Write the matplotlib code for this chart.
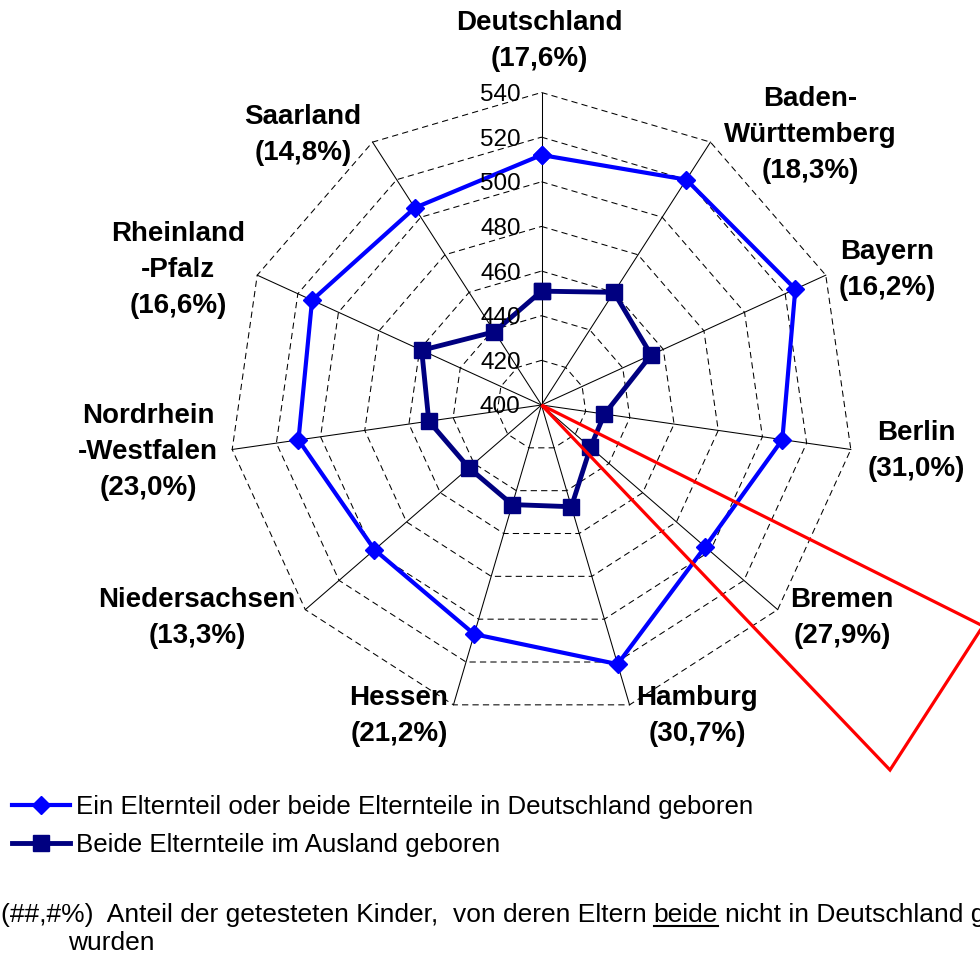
import numpy as np
import matplotlib
matplotlib.use("Agg")
import matplotlib.pyplot as plt
from matplotlib.patches import Polygon
from matplotlib.lines import Line2D

plt.rcParams['font.family'] = ['Liberation Sans', 'DejaVu Sans']

# Daten
laender = ['Deutschland', 'Baden-\nWürttemberg', 'Bayern', 'Berlin', 'Bremen', 'Hamburg',
           'Hessen', 'Niedersachsen', 'Nordrhein\n-Westfalen', 'Rheinland\n-Pfalz', 'Saarland']
anteil = ['17,6', '18,3', '16,2', '31,0', '27,9', '30,7', '21,2', '13,3', '23,0', '16,6', '14,8']
deutsch = [512, 520, 525, 509, 497, 521, 507, 499, 510, 513, 505]
ausland = [451, 460, 454, 428.5, 429, 447.5, 446.5, 443, 451, 459, 439]
stufen = [400, 420, 440, 460, 480, 500, 520, 540]
serien_namen = ['Ein Elternteil oder beide Elternteile in Deutschland geboren',
                'Beide Elternteile im Ausland geboren']

# Layout (Pixel, y von oben)
W, H = 980, 955
cx, cy, R = 541.5, 405, 312.5
label_pos = [(539, 41), (810, 135), (887, 270), (916, 451), (842, 618), (697, 716),
             (399, 716), (197, 618), (148, 452), (178, 270), (303, 135)]

fig = plt.figure(figsize=(W / 100, H / 100), dpi=100)
ax = fig.add_axes([(cx - R) / W, (H - cy - R) / H, 2 * R / W, 2 * R / H], projection='polar')
ax.set_theta_zero_location('N')
ax.set_theta_direction(-1)
ax.set_ylim(stufen[0], stufen[-1])
ax.grid(False)
ax.set_xticks([])
ax.set_yticks([])
ax.spines['polar'].set_visible(False)
ax.patch.set_visible(False)

n = len(laender)
theta = np.linspace(0, 2 * np.pi, n, endpoint=False)
thetac = np.append(theta, theta[0])

# Gitter
for lvl in stufen[1:]:
    ax.plot(thetac, [lvl] * (n + 1), color='black', lw=0.75, ls=(0, (6, 4)), zorder=1, clip_on=False)
for t in theta:
    ax.plot([t, t], [stufen[0], stufen[-1]], color='black', lw=0.75, zorder=1, clip_on=False)

l1, = ax.plot(thetac, deutsch + deutsch[:1], color='#0000FF', lw=3, marker='D', ms=9,
              label=serien_namen[0], zorder=3, clip_on=False)
l2, = ax.plot(thetac, ausland + ausland[:1], color='#000080', lw=3.5, marker='s', ms=11.5,
              label=serien_namen[1], zorder=3, clip_on=False)

for lvl in stufen:
    ax.annotate(str(lvl), xy=(0, lvl), xytext=(-15, -6.1), textcoords='offset points',
                ha='right', va='baseline', fontsize=17.5, zorder=5)

for name, pct, (x, y) in zip(laender, anteil, label_pos):
    fig.text(x / W, 1 - y / H, f"{name}\n({pct}%)", ha='center', va='center',
             fontsize=20, fontweight='bold', linespacing=1.5)

# rotes Dreieck
ov = fig.add_axes([0, 0, 1, 1])
ov.set_xlim(0, W)
ov.set_ylim(H, 0)
ov.axis('off')
ov.add_patch(Polygon([(cx, cy), (983, 626), (890, 770)], closed=True, fill=False,
                     edgecolor='#FF0000', lw=2.3, joinstyle='miter'))

fig.legend([l1, l2], serien_namen, loc='upper left', bbox_to_anchor=(12 / W, 1 - 795 / H),
           frameon=False, fontsize=18.6, handlelength=2.25, handletextpad=0.22,
           borderpad=0, borderaxespad=0, labelspacing=0.55)

# Fussnote mit unterstrichenem "beide"
fs = 19
yb = 1 - 921.5 / H
r = fig.canvas.get_renderer()
t1 = fig.text(0.5 / W, yb, '(##,#%)  Anteil der getesteten Kinder,  von deren Eltern',
              fontsize=fs, va='baseline')
prop = t1.get_fontproperties()
sp = r.get_text_width_height_descent('a a', prop, ismath=False)[0] - \
    r.get_text_width_height_descent('aa', prop, ismath=False)[0]
bb1 = t1.get_window_extent(r)
t2 = fig.text((bb1.x1 + sp) / W, yb, 'beide', fontsize=fs, va='baseline')
bb2 = t2.get_window_extent(r)
fig.add_artist(Line2D([bb2.x0 / W, bb2.x1 / W], [1 - 925.5 / H] * 2, transform=fig.transFigure,
                      color='black', lw=1.5))
fig.text((bb2.x1 + sp) / W, yb, 'nicht in Deutschland geboren', fontsize=fs, va='baseline')
fig.text(68 / W, 1 - 950 / H, 'wurden', fontsize=fs, va='baseline')

fig.savefig('out.png', dpi=100, facecolor='white')
